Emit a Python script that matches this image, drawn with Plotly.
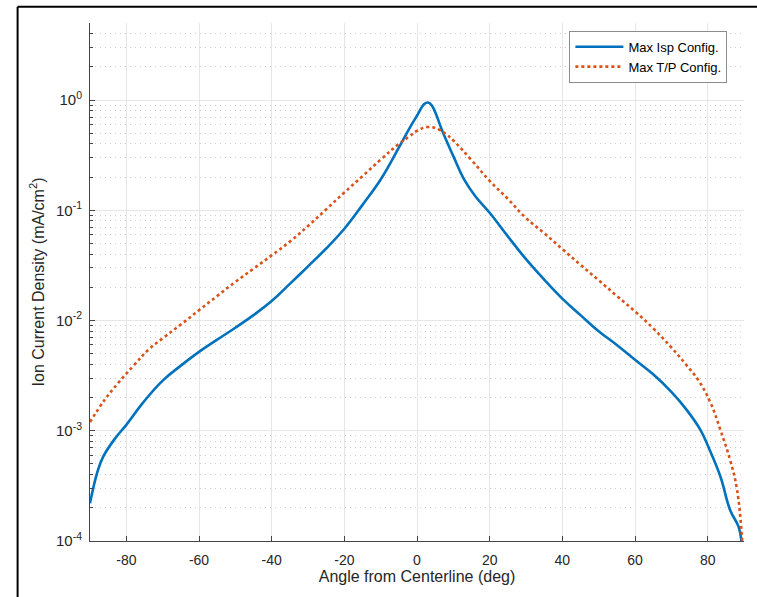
import math
import plotly.graph_objects as go

# ---- data ----
isp_deg = [-90, -88, -86.4, -83, -80, -75.4, -70, -65, -60, -55, -50, -45, -40, -35, -30, -25,
           -20, -15, -10, -5, -2, 0, 2, 3, 4, 5, 7, 10, 13, 16, 20, 25, 30, 35, 40, 45, 50,
           55, 60, 65, 70, 74, 78, 80.3, 83.5, 86.2, 88.5, 89.3]
isp_val = [2.2e-4, 4.2e-4, 5.8e-4, 8.6e-4, 1.13e-3, 1.8e-3, 2.85e-3, 3.9e-3, 5.2e-3, 6.7e-3,
           8.6e-3, 1.12e-2, 1.5e-2, 2.15e-2, 3.1e-2, 4.5e-2, 6.8e-2, 0.112, 0.19, 0.37, 0.56,
           0.72, 0.92, 0.95, 0.90, 0.78, 0.52, 0.31, 0.19, 0.135, 0.095, 0.058, 0.036, 0.0235,
           0.0158, 0.0112, 8.0e-3, 6.0e-3, 4.4e-3, 3.25e-3, 2.25e-3, 1.58e-3, 1.02e-3, 7.0e-4,
           3.85e-4, 1.9e-4, 1.35e-4, 1.0e-4]

tp_deg = [-90, -86, -82.3, -78, -73.5, -70, -65, -60, -55, -50, -45, -40, -35, -30, -25,
          -20, -15, -10, -5, -2, 0, 3, 6, 8, 10, 15, 20, 25, 30, 35, 40, 45, 50,
          55, 60, 65, 70, 74, 77.5, 80.7, 83.5, 86.2, 88.1, 89.5]
tp_val = [1.2e-3, 1.9e-3, 2.7e-3, 3.9e-3, 5.6e-3, 6.9e-3, 9.2e-3, 1.24e-2, 1.67e-2, 2.24e-2,
          2.95e-2, 3.9e-2, 5.2e-2, 7.2e-2, 0.102, 0.145, 0.204, 0.288, 0.40, 0.47, 0.525, 0.57,
          0.54, 0.49, 0.43, 0.285, 0.185, 0.127, 0.085, 0.062, 0.0445, 0.032, 0.0232, 0.0167,
          0.0121, 8.5e-3, 5.7e-3, 4.0e-3, 2.85e-3, 1.82e-3, 1.02e-3, 5.4e-4, 2.9e-4, 1.0e-4]

series_names = ["Max Isp Config.", "Max T/P Config."]
x_ticks = [-80, -60, -40, -20, 0, 20, 40, 60, 80]
x_ticktext = ["-80", "-60", "-40", "-20", "0", "20", "40", "60", "80"]
y_ticks = [1e-4, 1e-3, 1e-2, 1e-1, 1e0]
y_ticktext = ["10<sup>-4</sup>", "10<sup>-3</sup>", "10<sup>-2</sup>", "10<sup>-1</sup>", "10<sup>0</sup>"]

minor_vals = []
for e in range(-4, 1):
    for k in range(2, 10):
        v = k * 10 ** e
        if v <= 5.0001:
            minor_vals.append(v)

FONT = "Liberation Sans, Arial, Helvetica, sans-serif"
TXT = "#262626"

fig = go.Figure()
fig.add_trace(go.Scatter(x=isp_deg, y=isp_val, mode="lines", name=series_names[0],
                         line=dict(color="#0072BD", width=2.6, shape="spline", smoothing=1.2)))
fig.add_trace(go.Scatter(x=tp_deg, y=tp_val, mode="lines", name=series_names[1],
                         line=dict(color="#D95319", width=2.6, dash="dot", shape="spline", smoothing=1.2)))

fig.update_layout(
    width=757, height=597,
    margin=dict(l=90, r=13, t=23, b=56),
    paper_bgcolor="white", plot_bgcolor="white",
    font=dict(family=FONT, size=14, color=TXT),
    showlegend=True,
    legend=dict(x=0.733, y=0.985, xanchor="left", yanchor="top",
                bgcolor="white", bordercolor="#8c8c8c", borderwidth=1,
                font=dict(family=FONT, size=13, color="#000000"),
                tracegroupgap=0, itemwidth=48),
    xaxis=dict(range=[-90, 90], tickmode="array", tickvals=x_ticks, ticktext=x_ticktext,
               ticks="inside", ticklen=5, tickcolor="#444", showline=True, linecolor="#444",
               linewidth=1, showgrid=True, gridcolor="#e6e6e6", gridwidth=1, zeroline=False,
               tickfont=dict(size=14, color=TXT), ticklabelstandoff=6,
               title=dict(text="Angle from Centerline (deg)", font=dict(size=16, color=TXT), standoff=4)),
    yaxis=dict(type="log", range=[-4, math.log10(5)], tickmode="array", tickvals=y_ticks,
               ticktext=y_ticktext, ticks="inside", ticklen=5, tickcolor="#444",
               showline=True, linecolor="#444", linewidth=1, showgrid=True,
               gridcolor="#e6e6e6", gridwidth=1, zeroline=False,
               tickfont=dict(size=15, color=TXT), ticklabelstandoff=4,
               minor=dict(tickmode="array", tickvals=minor_vals, ticks="inside", ticklen=3,
                          tickcolor="#444", showgrid=True, gridcolor="#cccccc", griddash="1px,4px",
                          gridwidth=1),
               title=dict(text="Ion Current Density (mA/cm<sup>2</sup>)", font=dict(size=16, color=TXT),
                          standoff=7)),
)

# outer black frame (top and left edges)
fig.add_shape(type="line", xref="paper", yref="paper", x0=-0.1107, x1=1.1, y0=1.0312, y1=1.0312,
              line=dict(color="black", width=2))
fig.add_shape(type="line", xref="paper", yref="paper", x0=-0.1107, x1=-0.1107, y0=1.0312, y1=-0.2,
              line=dict(color="black", width=2))

fig.write_html("out.html")
